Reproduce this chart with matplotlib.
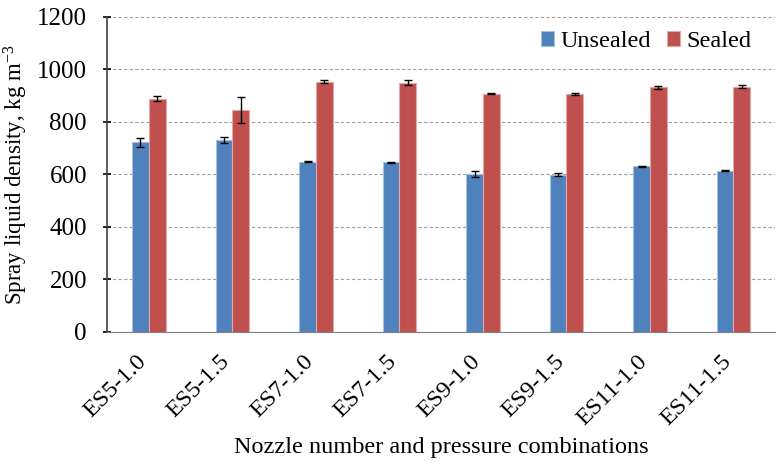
import numpy as np
import matplotlib.pyplot as plt
from matplotlib.transforms import ScaledTranslation

plt.rcParams['font.family'] = 'Liberation Serif'
plt.rcParams['mathtext.fontset'] = 'custom'
plt.rcParams['mathtext.rm'] = 'Liberation Serif'
plt.rcParams['mathtext.it'] = 'Liberation Serif:italic'
plt.rcParams['mathtext.default'] = 'regular'

labels = ['ES5-1.0', 'ES5-1.5', 'ES7-1.0', 'ES7-1.5',
          'ES9-1.0', 'ES9-1.5', 'ES11-1.0', 'ES11-1.5']
unsealed = [722, 731, 649, 646, 601, 599, 632, 614]
unsealed_err = [17, 10, 2, 2, 11, 5, 2, 2]
sealed = [888, 846, 953, 950, 907, 908, 932, 935]
sealed_err = [10, 50, 6, 11, 2, 4, 5, 7]

fig = plt.figure(figsize=(7.76, 4.66), dpi=100)
ax = fig.add_axes([0.138, 0.2876, 0.861, 0.676])

x = np.arange(len(labels))
w = 0.2
ax.bar(x - w/2, unsealed, w, color='#4F81BD', edgecolor='#A7C0DE', linewidth=0.8,
       label='Unsealed', zorder=2)
ax.bar(x + w/2, sealed, w, color='#C0504D', edgecolor='#E0A8A6', linewidth=0.8,
       label='Sealed', zorder=2)
ax.errorbar(x - w/2, unsealed, yerr=unsealed_err, fmt='none', ecolor='black',
            elinewidth=1, capsize=3, capthick=1, zorder=3)
ax.errorbar(x + w/2, sealed, yerr=sealed_err, fmt='none', ecolor='black',
            elinewidth=1, capsize=3, capthick=1, zorder=3)

ax.set_xlim(-0.5, len(labels) - 0.5)
ax.set_ylim(0, 1200)
ax.set_yticks(range(0, 1201, 200))
ax.yaxis.grid(True, linestyle=(0, (3, 2)), color='#A0A0A0', linewidth=0.8, zorder=0)
ax.set_axisbelow(True)

ax.set_xticks(x)
ax.set_xticklabels(labels, rotation=45, ha='right', va='center',
                   rotation_mode='anchor', fontsize=17.5)
ax.tick_params(axis='x', length=0, pad=19)
shift = ScaledTranslation(-4/72, 0, fig.dpi_scale_trans)
for lab in ax.get_xticklabels():
    lab.set_transform(lab.get_transform() + shift)
ax.tick_params(axis='y', labelsize=18, length=6, width=1.2, direction='inout', pad=11.5)

for s in ['top', 'right']:
    ax.spines[s].set_visible(False)
ax.spines['left'].set_color('#404040')
ax.spines['left'].set_linewidth(1.2)
ax.spines['bottom'].set_color('#808080')

ax.set_ylabel('Spray liquid density, kg m$^{-3}$', fontsize=16.5)
ax.yaxis.set_label_coords(-0.115, 0.5)
ax.set_xlabel('Nozzle number and pressure combinations', fontsize=17.5, labelpad=5)

ax.legend(loc='center right', frameon=False, fontsize=17.5, ncol=2, handlelength=0.55,
          handleheight=0.55, columnspacing=0.67, handletextpad=0.25,
          borderaxespad=0, bbox_to_anchor=(0.979, 0.921))

fig.savefig('out.png', dpi=100)
